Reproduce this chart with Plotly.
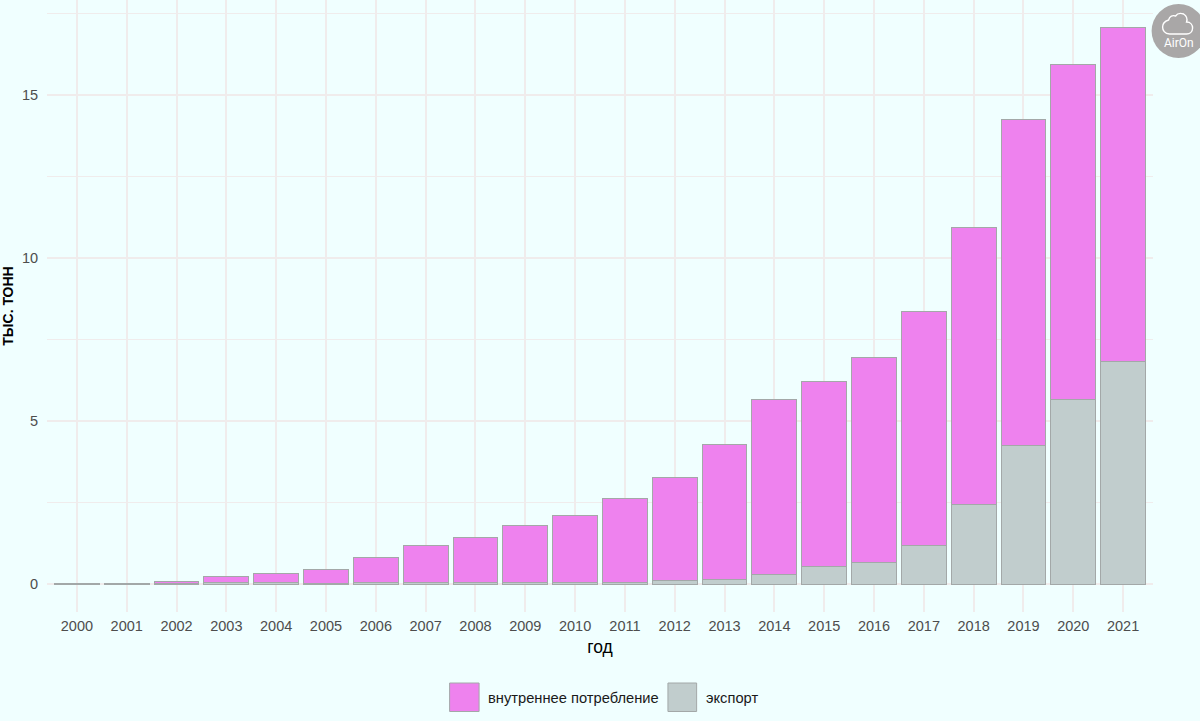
import plotly.graph_objects as go

W, H = 1200, 721
L, R, T, B = 46.6, 46.6, 0, 109

years = list(range(2000, 2022))
export = [0.0, 0.01, 0.02, 0.04, 0.05, 0.02, 0.05, 0.05, 0.05, 0.05, 0.05,
          0.05, 0.1, 0.14, 0.31, 0.55, 0.68, 1.2, 2.44, 4.25, 5.67, 6.83]
domestic = [0.01, 0.02, 0.06, 0.19, 0.28, 0.43, 0.78, 1.13, 1.39, 1.75, 2.05,
            2.58, 3.18, 4.13, 5.36, 5.65, 6.27, 7.15, 8.49, 9.98, 10.25, 10.22]
y_ticks = [0, 5, 10, 15]
legend_labels = ["внутреннее потребление", "экспорт"]

BG = "#F0FFFF"
GRID = "#F0ECEC"
PINK = "#EE82EE"
GREY = "#C1CDCD"
EDGE = "#A3A8A8"


# page pixels -> plot area fractions
def px(x):
    return (x - L) / (W - L - R)


def py(y):
    return 1 - (y - T) / (H - T - B)


fig = go.Figure()
fig.add_trace(go.Bar(x=years, y=export, name=legend_labels[1], width=0.9,
                     marker=dict(color=GREY, line=dict(color=EDGE, width=1))))
fig.add_trace(go.Bar(x=years, y=domestic, name=legend_labels[0], width=0.9,
                     marker=dict(color=PINK, line=dict(color=EDGE, width=1))))

shapes = []
annotations = []

# ggplot-style legend, big square keys
for x0, x1, color in [(449.5, 479, PINK), (668, 696.7, GREY)]:
    shapes.append(dict(type="rect", xref="paper", yref="paper", x0=px(x0), x1=px(x1),
                       y0=py(711.5), y1=py(683), fillcolor=color,
                       line=dict(color=EDGE, width=1), layer="above"))
for x, label in [(488, legend_labels[0]), (706, legend_labels[1])]:
    annotations.append(dict(text=label, xref="paper", yref="paper", x=px(x), y=py(698),
                            xanchor="left", yanchor="middle", showarrow=False,
                            xshift=-2, font=dict(size=14.7, color="#1A1A1A")))

# AirOn badge
shapes.append(dict(type="circle", xref="paper", yref="paper", x0=px(1152), x1=px(1206),
                   y0=py(58), y1=py(4), fillcolor="#A9A7A7", line=dict(width=0), layer="above"))
shapes.append(dict(type="path", xref="paper", yref="paper", xsizemode="pixel", ysizemode="pixel",
                   xanchor=px(1178), yanchor=py(24),
                   path="M-8,-10 C-13,-10 -15,-6 -15,-3 C-15,1 -12,3 -9,4 C-8,8 -5,9 -2,8 "
                        "C0,11 3,11 6,10 C9,8 10,5 9,2 C13,2 15,-1 15,-4 C15,-8 12,-10 9,-10 Z",
                   fillcolor="rgba(0,0,0,0)", line=dict(color="white", width=1.4), layer="above"))
annotations.append(dict(text="AirOn", xref="paper", yref="paper", x=px(1179), y=py(43),
                        xanchor="center", yanchor="middle", showarrow=False,
                        font=dict(family="Roboto", size=12, color="white")))

fig.update_layout(
    width=W, height=H,
    barmode="stack",
    showlegend=False,
    paper_bgcolor=BG,
    plot_bgcolor=BG,
    font=dict(family="Liberation Sans, Arial, sans-serif"),
    margin=dict(l=L, r=R, t=T, b=B, pad=0),
    shapes=shapes,
    annotations=annotations,
    xaxis=dict(
        range=[1999.4, 2021.6], tickmode="array", tickvals=years, ticktext=[str(y) for y in years],
        showgrid=True, gridcolor=GRID, gridwidth=2, zeroline=False, showline=False,
        ticks="outside", ticklen=1, tickcolor="rgba(0,0,0,0)",
        tickfont=dict(size=14.5, color="#4D4D4D"),
        title=dict(text="год", font=dict(size=17.5, color="black"), standoff=7),
        automargin=False,
    ),
    yaxis=dict(
        range=[-0.85, 17.9], tickmode="array", tickvals=y_ticks,
        showgrid=True, gridcolor=GRID, gridwidth=2, zeroline=False, showline=False,
        minor=dict(tickmode="array", tickvals=[2.5, 7.5, 12.5, 17.5], showgrid=True,
                   gridcolor=GRID, gridwidth=1),
        ticks="outside", ticklen=5, tickcolor="rgba(0,0,0,0)",
        tickfont=dict(size=14.5, color="#4D4D4D"),
        title=dict(text="<b>ТЫС. ТОНН</b>", font=dict(size=14, color="black"), standoff=9),
        automargin=False,
    ),
)

fig.write_html("out.html", config={"displayModeBar": False},
               post_script="document.body.style.margin='0';")
